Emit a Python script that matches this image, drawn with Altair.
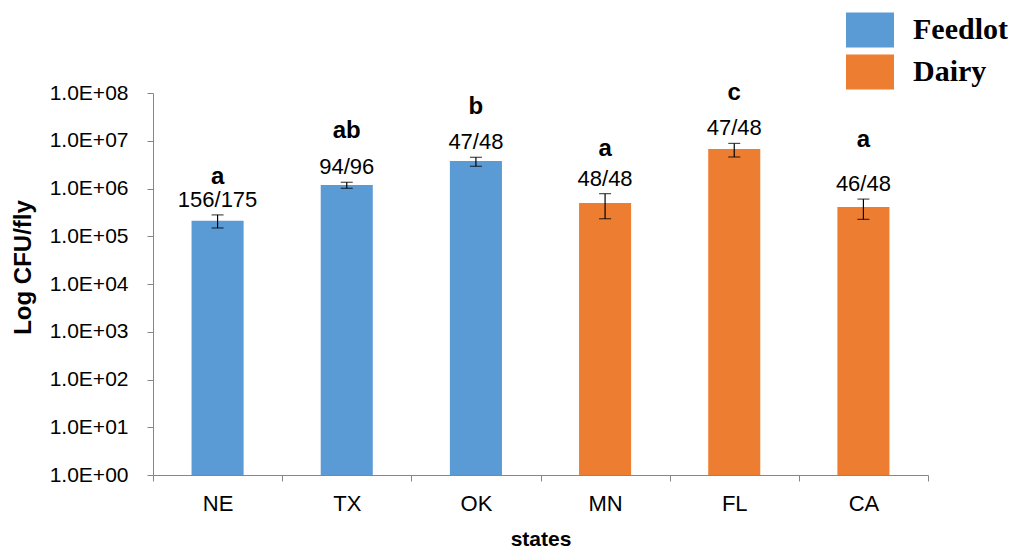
import altair as alt
import pandas as pd

states = ["NE", "TX", "OK", "MN", "FL", "CA"]
groups = ["Feedlot", "Feedlot", "Feedlot", "Dairy", "Dairy", "Dairy"]
means = [2.1e5, 1.18e6, 3.77e6, 4.97e5, 6.7e6, 4.1e5]
err_low = [1.49e5, 1.01e6, 2.92e6, 2.33e5, 4.57e6, 2.26e5]
err_high = [2.8e5, 1.35e6, 4.5e6, 7.8e5, 8.8e6, 6.0e5]
fractions = ["156/175", "94/96", "47/48", "48/48", "47/48", "46/48"]
letters = ["a", "ab", "b", "a", "c", "a"]
letter_pos = [1.78e6, 1.6e7, 5.1e7, 6.7e6, 1.0e8, 1.04e7]
y_ticks = [1, 10, 100, 1e3, 1e4, 1e5, 1e6, 1e7, 1e8]

df = pd.DataFrame({
    "state": states, "group": groups, "mean": means, "lo": err_low,
    "hi": err_high, "frac": fractions, "letter": letters, "lpos": letter_pos,
})

SANS = "Liberation Sans"
AXC = "#868686"
YTITLE = "Log CFU/fly"

xaxis = alt.Axis(
    title="states", labelAngle=0, tickBand="extent", tickSize=6,
    labelPadding=12, labelFontSize=22, labelFont=SANS, labelColor="black",
    titleFont=SANS, titleFontSize=21, titleFontWeight="bold",
    titleColor="black", titlePadding=14, domainColor=AXC, tickColor=AXC,
    grid=False,
)
yaxis = alt.Axis(
    title=YTITLE, values=y_ticks,
    labelExpr="'1.0E+' + format(round(log(datum.value)/LN10), '02d')",
    tickSize=6, labelPadding=19, labelFontSize=21, labelFont=SANS,
    labelColor="black", titleFont=SANS, titleFontSize=24,
    titleFontWeight="bold", titleColor="black", titlePadding=14,
    titleY=174, domainColor=AXC, tickColor=AXC, grid=False,
)
xscale = alt.Scale(paddingInner=0, paddingOuter=0)
yscale = alt.Scale(type="log", domain=[1, 1e8], nice=False)


def xe():
    return alt.X("state:N", sort=states, scale=xscale, axis=xaxis)


def ye(field):
    return alt.Y(field, scale=yscale, axis=yaxis, title=YTITLE)


base = alt.Chart(df)

bars = base.mark_bar(width=alt.RelativeBandSize(0.403)).encode(
    x=xe(),
    y=ye("mean:Q"),
    y2=alt.datum(1),
    color=alt.Color(
        "group:N",
        scale=alt.Scale(domain=["Feedlot", "Dairy"], range=["#5B9BD5", "#ED7D31"]),
        legend=alt.Legend(
            title=None, orient="none", legendX=693, legendY=-87,
            symbolType="M-1,-0.73H1V0.73H-1Z", symbolSize=2304,
            symbolStrokeWidth=0, symbolOpacity=1,
            labelFont="Liberation Serif", labelFontSize=30,
            labelFontWeight="bold", labelColor="black", labelOffset=19,
            rowPadding=0,
        ),
    ),
)

rules = base.mark_rule(color="black", strokeWidth=1.2).encode(
    x=xe(), y=ye("lo:Q"), y2=alt.Y2("hi:Q", title=YTITLE)
)
cap_hi = base.mark_tick(color="black", size=12, thickness=1.2).encode(
    x=xe(), y=ye("hi:Q")
)
cap_lo = base.mark_tick(color="black", size=12, thickness=1.2).encode(
    x=xe(), y=ye("lo:Q")
)
frac_text = base.mark_text(dy=-15, fontSize=22, font=SANS, color="black",
                           baseline="middle").encode(
    x=xe(), y=ye("hi:Q"), text="frac:N"
)
letter_text = base.mark_text(fontSize=24, font=SANS, fontWeight="bold",
                             color="black", baseline="middle").encode(
    x=xe(), y=ye("lpos:Q"), text="letter:N"
)

chart = alt.layer(bars, rules, cap_hi, cap_lo, frac_text, letter_text).properties(
    width=775, height=382,
    autosize=alt.AutoSizeParams(type="none"),
    padding={"left": 145, "top": 85, "right": 80, "bottom": 73},
).configure(background="white").configure_view(stroke=None)

chart.save("out.html", embed_options={"renderer": "svg", "actions": False})
